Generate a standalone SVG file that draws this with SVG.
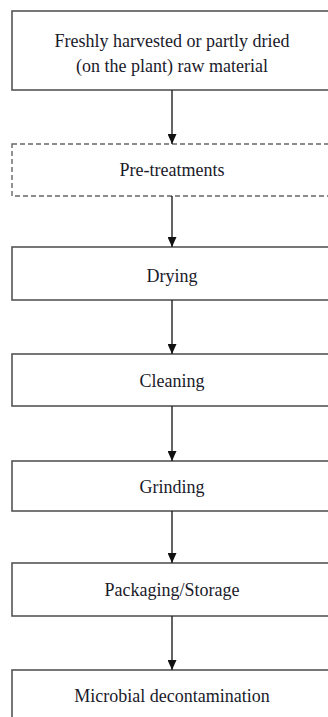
<svg xmlns="http://www.w3.org/2000/svg" width="328" height="717" viewBox="0 0 328 717">
  <defs>
    <marker id="arrow" markerWidth="10" markerHeight="9" refX="10" refY="4.5" orient="auto" markerUnits="userSpaceOnUse" viewBox="0 0 10 9">
      <path d="M0,0 L10,4.5 L0,9 Z" fill="#111"/>
    </marker>
  </defs>
  <style>
    .box { fill: #fff; stroke: #555; stroke-width: 1.6; }
    .dashed { fill: #fff; stroke: #666; stroke-width: 1.4; stroke-dasharray: 5 3; }
    .label { font-family: "Liberation Serif", "Times New Roman", serif; font-size: 18px; fill: #1a1a2a; text-anchor: middle; }
    .conn { stroke: #222; stroke-width: 1.4; fill: none; }
  </style>
  <rect width="328" height="717" fill="#fff"/>

  <g id="raw-material">
    <rect class="box" x="12" y="11" width="330" height="79"/>
    <text class="label" x="172" y="47">Freshly harvested or partly dried</text>
    <text class="label" x="172" y="72">(on the plant) raw material</text>
  </g>

  <g id="pre-treatments">
    <rect class="dashed" x="12" y="144" width="330" height="52"/>
    <text class="label" x="172" y="176">Pre-treatments</text>
  </g>

  <g id="drying">
    <rect class="box" x="12" y="247" width="330" height="53"/>
    <text class="label" x="172" y="282">Drying</text>
  </g>

  <g id="cleaning">
    <rect class="box" x="12" y="354" width="330" height="52"/>
    <text class="label" x="172" y="387">Cleaning</text>
  </g>

  <g id="grinding">
    <rect class="box" x="12" y="461" width="330" height="50"/>
    <text class="label" x="172" y="493">Grinding</text>
  </g>

  <g id="packaging">
    <rect class="box" x="12" y="563" width="330" height="53"/>
    <text class="label" x="172" y="596">Packaging/Storage</text>
  </g>

  <g id="decontamination">
    <rect class="box" x="12" y="670" width="330" height="60"/>
    <text class="label" x="172" y="702">Microbial decontamination</text>
  </g>

  <g id="connectors">
    <line class="conn" x1="172" y1="90" x2="172" y2="144" marker-end="url(#arrow)"/>
    <line class="conn" x1="172" y1="196" x2="172" y2="247" marker-end="url(#arrow)"/>
    <line class="conn" x1="172" y1="300" x2="172" y2="354" marker-end="url(#arrow)"/>
    <line class="conn" x1="172" y1="406" x2="172" y2="461" marker-end="url(#arrow)"/>
    <line class="conn" x1="172" y1="511" x2="172" y2="563" marker-end="url(#arrow)"/>
    <line class="conn" x1="172" y1="616" x2="172" y2="670" marker-end="url(#arrow)"/>
  </g>
</svg>
